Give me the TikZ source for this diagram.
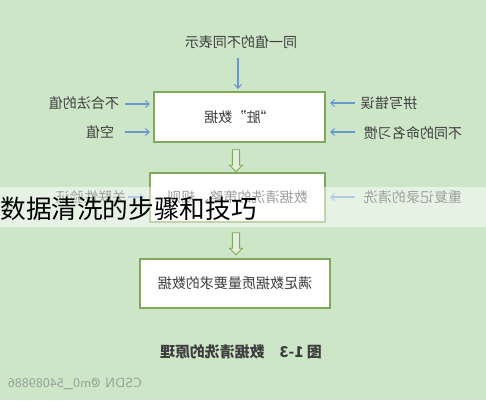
\documentclass[tikz,border=0pt]{standalone}
\usepackage{fontspec}
\newfontfamily\cjk{Noto Sans CJK SC}
\usetikzlibrary{arrows.meta,calc,shapes.arrows}
\definecolor{bggreen}{RGB}{206,230,200}
\definecolor{boxgreen}{RGB}{128,168,92}
\definecolor{arrblue}{RGB}{104,152,208}
\definecolor{txtgray}{RGB}{62,62,62}
\definecolor{hollowfill}{RGB}{226,240,218}
\definecolor{markgray}{RGB}{150,162,150}

\begin{document}
\begin{tikzpicture}[x=0.02cm,y=-0.02cm,
        lbl/.style={font=\cjk\fontsize{8}{9}\selectfont,text=txtgray,xscale=-1,inner sep=0pt},
        stage/.style={draw=boxgreen,line width=0.6pt,fill=white},
        arr/.style={draw=arrblue,line width=0.6pt,-{Straight Barb[length=2.2pt,width=4pt]}},
        hollow/.style={single arrow,draw=boxgreen,fill=hollowfill,line width=0.5pt,rotate=-90,
            minimum width=13*0.02cm,single arrow head extend=1.5pt,inner sep=1.6pt,minimum height=22*0.02cm}]
        \fill[bggreen](0,0)rectangle(486,400);
        \useasboundingbox(0,0)rectangle(486,400);

        \draw[stage](154,92)rectangle(325,142);
        \draw[stage](150,173)rectangle(325,222);
        \draw[stage](140,259)rectangle(330,308);
        \coordinate(dirty)at(239.5,117);
        \coordinate(rule)at(237.5,197.5);
        \node[lbl](dirtytxt)at(dirty){“脏”数据};
        \node[lbl](ruletxt)at(rule){数据清洗的策略、规则};
        \node[lbl](good)at(235,283){满足数据质量要求的数据};

        \node[lbl](same)at(241,42){同一值的不同表示};
        \node[lbl](bad)at(84,103){不合法的值};
        \node[lbl](empty)at(100,132){空值};
        \node[lbl](spell)at(389,103){拼写错误};
        \node[lbl](naming)at(413,133){不同的命名习惯};
        \node[lbl](link)at(91,197){关联性验证};
        \node[lbl](dup)at(413,197){重复记录的清洗};

        \draw[arr]($(238,92)+(0,-34)$)--($(238,92)+(0,-3)$);
        \draw[arr]($(bad-|154,0)+(-29,1)$)--($(bad-|154,0)+(-4,1)$);
        \draw[arr]($(empty-|154,0)+(-29,0)$)--($(empty-|154,0)+(-4,0)$);
        \draw[arr]($(spell-|325,0)+(30,0)$)--($(spell-|325,0)+(5,0)$);
        \draw[arr]($(naming-|325,0)+(30,-1)$)--($(naming-|325,0)+(5,-1)$);
        \draw[arr]($(link-|150,0)+(-22,0)$)--($(link-|150,0)+(-6,0)$);
        \draw[arr]($(dup-|325,0)+(30,0)$)--($(dup-|325,0)+(5,0)$);

        \node[hollow](down1)at(236,159){};
        \node[hollow](down2)at(236,242){};

        \node[lbl,font=\cjk\bfseries\fontsize{8.5}{10}\selectfont](cap)at(241,352){图 1-3\quad 数据清洗的原理};
        \node[lbl,text=markgray,font=\fontsize{7.5}{9}\selectfont\sffamily](mark)at(75,384){CSDN @m0\_54089886};

        \fill[white,opacity=0.5](0,187)rectangle(486,227);
        \node[anchor=west,inner sep=0pt,font=\cjk\fontsize{14.6}{16}\selectfont](title)at(0,209){数据清洗的步骤和技巧};
    \end{tikzpicture}
\end{document}
